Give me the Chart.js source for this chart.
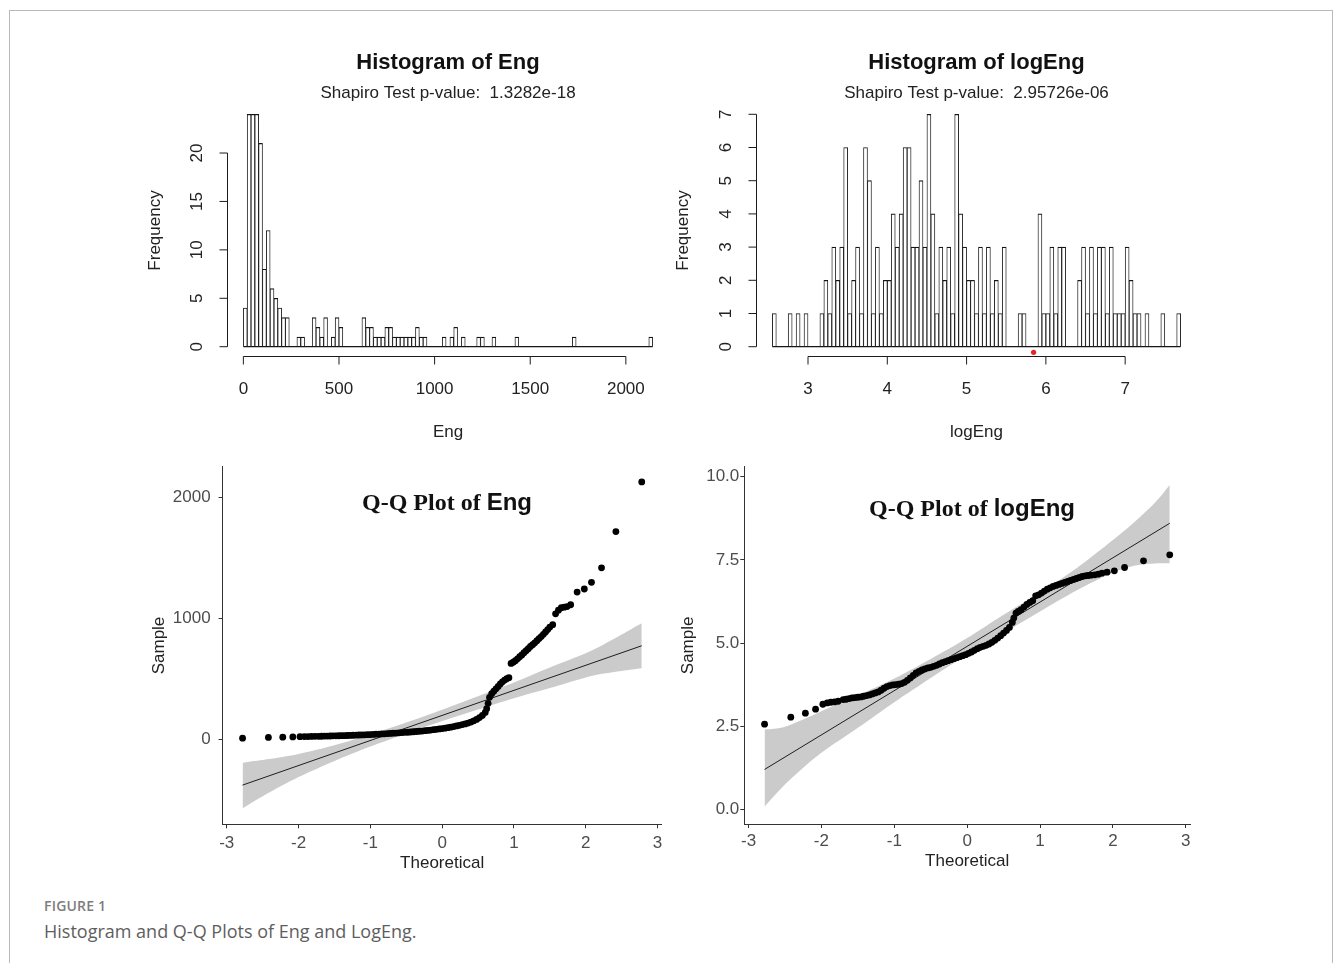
<!DOCTYPE html>
<html lang="en">
<head>
<meta charset="utf-8">
<title>Histogram and Q-Q Plots of Eng and LogEng</title>
<script src="https://cdn.jsdelivr.net/npm/chart.js@4.4.1/dist/chart.umd.min.js"></script>
<style>
    html, body { margin: 0; padding: 0; background: #fff; }
    body { position: relative; width: 1333px; height: 963px; overflow: hidden; }
    .frame {
        position: absolute; left: 9px; top: 10px; width: 1324px; height: 960px;
        box-sizing: border-box; border: 1px solid #b9b9b9; border-bottom: none;
    }
    canvas { position: absolute; }
    .qq-title {
        position: absolute; transform: translate(-50%, -50%);
        white-space: nowrap; line-height: 1; color: #111;
    }
    .qq-title .serif { font: bold 24px "Liberation Serif", "Times New Roman", serif; }
    .qq-title .sans { font: bold 24px "Liberation Sans", Arial, sans-serif; }
    .fig-label {
        position: absolute; left: 44px; top: 896px; line-height: 1.2;
        font: 600 14px "Open Sans", sans-serif; color: #7d7d7d; letter-spacing: 0.2px;
    }
    .fig-caption {
        position: absolute; left: 44px; top: 919px; line-height: 1.2;
        font: 400 18px "Open Sans", sans-serif; color: #5e5e5e;
    }
</style>
</head>
<body>
<div class="frame"></div>

<canvas id="histEng" width="540" height="420" style="left:140px;top:40px"></canvas>
<canvas id="histLogEng" width="540" height="420" style="left:670px;top:40px"></canvas>
<canvas id="qqEng" width="540" height="420" style="left:140px;top:460px"></canvas>
<canvas id="qqLogEng" width="540" height="420" style="left:670px;top:460px"></canvas>

<div class="qq-title" style="left:447px;top:502px"><span class="serif">Q-Q Plot of </span><span class="sans">Eng</span></div>
<div class="qq-title" style="left:972px;top:508px"><span class="serif">Q-Q Plot of </span><span class="sans">logEng</span></div>

<div class="fig-label">FIGURE 1</div>
<div class="fig-caption">Histogram and Q-Q Plots of Eng and LogEng.</div>

<script>
// ---------------- data ----------------

// Histogram of Eng: bins of width 20 starting at 0
const engBinStart = 0;
const engBinWidth = 20;
const engCounts = [
    4, 24, 24, 24, 21, 8, 12, 6, 5, 4, 3, 3,
    0, 0, 1, 1, 0, 0,
    3, 2, 1, 3, 0, 1, 3, 2,
    0, 0, 0, 0, 0,
    3, 2, 2, 1, 1, 1, 2, 2, 1, 1, 1, 1, 1, 1, 2, 1, 1,
    0, 0, 0, 0,
    1, 0, 1, 2, 0, 1,
    0, 0, 0, 1, 1, 0, 0, 1,
    0, 0, 0, 0, 0, 1,
    0, 0, 0, 0, 0, 0, 0, 0, 0, 0, 0, 0, 0, 0, 1,
    0, 0, 0, 0, 0, 0, 0, 0, 0, 0, 0, 0, 0, 0, 0, 0, 0, 0, 0, 1
];
const engXTicks = [0, 500, 1000, 1500, 2000];
const engYTicks = [0, 5, 10, 15, 20];

// Histogram of logEng: bins of width 0.05 starting at 2.55
const logBinStart = 2.55;
const logBinWidth = 0.05;
const logCounts = [
    1, 0, 0, 0, 1, 0, 1, 0, 1, 0, 0, 0,
    1, 2, 1, 3, 2, 3, 6, 1, 2, 3, 1,
    6, 5, 1, 3, 1, 2, 2, 4,
    3, 4, 6, 6, 3, 3,
    5, 3, 7, 4, 1,
    3, 2, 3, 1, 7, 4,
    3, 2, 2, 1, 3, 1, 3, 1, 2, 1, 3,
    0, 0, 0,
    1, 1,
    0, 0, 0,
    4, 1, 1, 3, 1, 3, 3,
    0, 0, 0,
    2, 3, 1, 3, 1, 3, 3, 1, 3, 1, 1, 1, 3, 2, 1, 1, 0, 1,
    0, 0, 0,
    1,
    0, 0, 0,
    1
];
const logXTicks = [3, 4, 5, 6, 7];
const logYTicks = [0, 1, 2, 3, 4, 5, 6, 7];
const logMarker = [{ x: 5.845, y: -0.17 }];

// Q-Q plot of Eng
const qqEngTheo = [
    -2.78, -2.42, -2.22, -2.08, -1.98, -1.92, -1.87, -1.82, -1.77,
    -1.72, -1.68, -1.64, -1.60, -1.56, -1.52, -1.48, -1.44, -1.40, -1.36,
    -1.32, -1.28, -1.24, -1.20, -1.16, -1.12, -1.08, -1.04, -1.00, -0.96,
    -0.92, -0.88, -0.84, -0.80, -0.76, -0.72, -0.68, -0.64, -0.60, -0.56,
    -0.52, -0.48, -0.44, -0.40, -0.36, -0.32, -0.28, -0.24, -0.20, -0.16,
    -0.12, -0.08, -0.04, 0.00, 0.04, 0.08, 0.12, 0.16, 0.20, 0.24,
    0.28, 0.32, 0.36, 0.40, 0.44, 0.48, 0.52, 0.56, 0.60,
    0.62, 0.64, 0.66,
    0.69, 0.72, 0.75, 0.78, 0.81, 0.84, 0.87, 0.90, 0.93, 0.96,
    0.99, 1.02, 1.05, 1.08, 1.11, 1.14, 1.17, 1.20, 1.23, 1.26, 1.29, 1.32,
    1.35, 1.38, 1.41, 1.44, 1.47, 1.50,
    1.54, 1.58, 1.62, 1.66, 1.70, 1.74, 1.79,
    1.88, 1.98, 2.08, 2.22, 2.42, 2.78
];
const qqEngSample = [
    12, 18, 20, 22, 24, 25, 25, 26, 27,
    27, 28, 29, 29, 30, 31, 31, 32, 33, 33,
    34, 35, 36, 37, 38, 39, 40, 41, 42, 43,
    45, 46, 47, 48, 50, 51, 53, 54, 56, 58,
    60, 61, 63, 65, 67, 69, 71, 74, 76, 79,
    82, 85, 88, 91, 95, 99, 103, 108, 113, 118,
    124, 130, 137, 145, 155, 167, 182, 200, 225,
    255, 300, 350,
    380, 400, 420, 440, 460, 478, 492, 503, 512, 630,
    640, 652, 668, 685, 700, 718, 735, 752, 770, 785, 800, 818,
    835, 852, 870, 890, 910, 930,
    950, 1040, 1070, 1090, 1095, 1100, 1115,
    1220, 1245, 1300, 1420, 1720, 2130
];
const qqEngLineX = [-2.78, 2.78];
const qqEngLineY = [-376, 776];
const qqEngBandX = [-2.78, -2.65, -2.5, -2.25, -2, -1.5, -1, -0.5, 0, 0.5, 1, 1.5, 2, 2.25, 2.5, 2.65, 2.78];
const qqEngBandHigh = [-194, -179, -168, -146, -119, -46, 43, 141, 247, 359, 472, 596, 714, 786, 868, 919, 961];
const qqEngBandLow = [-569, -519, -468, -386, -309, -176, -57, 51, 153, 249, 342, 426, 514, 546, 568, 579, 589];
const qqEngXTicks = [-3, -2, -1, 0, 1, 2, 3];
const qqEngYTicks = [0, 1000, 2000];

// Q-Q plot of logEng
const qqLogTheo = [
    -2.78, -2.42, -2.22, -2.08, -1.98, -1.92, -1.87, -1.82, -1.77,
    -1.70, -1.66, -1.62, -1.58, -1.54, -1.50, -1.46, -1.42, -1.38, -1.34,
    -1.30, -1.26, -1.22, -1.18, -1.14, -1.10, -1.06, -1.02, -0.98, -0.94,
    -0.90, -0.86, -0.82, -0.78, -0.74, -0.70, -0.66, -0.62, -0.58, -0.54,
    -0.50, -0.46, -0.42, -0.38, -0.34, -0.30, -0.26, -0.22, -0.18, -0.14,
    -0.10, -0.06, -0.02, 0.02, 0.06, 0.10, 0.14, 0.18, 0.22, 0.26,
    0.30, 0.34, 0.38, 0.42, 0.46, 0.50, 0.54, 0.58,
    0.62, 0.64, 0.67, 0.70, 0.74, 0.78, 0.82, 0.86, 0.90, 0.94,
    0.98, 1.02, 1.06, 1.10, 1.14, 1.18, 1.22, 1.26, 1.30, 1.34,
    1.38, 1.42, 1.46, 1.50, 1.54, 1.58, 1.62, 1.66, 1.70, 1.75,
    1.80, 1.85, 1.92, 2.02, 2.16, 2.42, 2.78
];
const qqLogSample = [
    2.56, 2.77, 2.89, 3.01, 3.16, 3.20, 3.22, 3.23, 3.25,
    3.30, 3.31, 3.33, 3.35, 3.36, 3.37, 3.38, 3.40, 3.42, 3.44,
    3.47, 3.50, 3.53, 3.58, 3.64, 3.69, 3.72, 3.74, 3.75, 3.76,
    3.78, 3.82, 3.88, 3.95, 4.03, 4.10, 4.15, 4.19, 4.22, 4.25,
    4.27, 4.30, 4.33, 4.37, 4.41, 4.44, 4.47, 4.50, 4.53, 4.56,
    4.59, 4.62, 4.65, 4.69, 4.73, 4.78, 4.83, 4.87, 4.90, 4.93,
    4.97, 5.02, 5.08, 5.15, 5.22, 5.30, 5.38, 5.47,
    5.62, 5.75, 5.90, 5.95, 6.00, 6.08, 6.16, 6.22, 6.27, 6.42,
    6.45, 6.50, 6.56, 6.62, 6.66, 6.70, 6.73, 6.76, 6.79, 6.82,
    6.85, 6.88, 6.91, 6.94, 6.97, 7.00, 7.02, 7.03, 7.04, 7.05,
    7.07, 7.10, 7.13, 7.17, 7.27, 7.47, 7.65
];
const qqLogLineX = [-2.78, 2.78];
const qqLogLineY = [1.20, 8.60];
const qqLogBandX = [-2.78, -2.65, -2.5, -2.25, -2, -1.5, -1, -0.5, 0, 0.5, 1, 1.5, 2, 2.25, 2.5, 2.65, 2.78];
const qqLogBandHigh = [2.40, 2.42, 2.48, 2.70, 2.95, 3.42, 3.93, 4.52, 5.15, 5.85, 6.52, 7.25, 8.10, 8.55, 9.05, 9.40, 9.75];
const qqLogBandLow = [0.08, 0.40, 0.75, 1.25, 1.70, 2.45, 3.22, 3.95, 4.65, 5.30, 5.95, 6.58, 7.12, 7.30, 7.38, 7.40, 7.40];
const qqLogXTicks = [-3, -2, -1, 0, 1, 2, 3];
const qqLogYTicks = [0, 2.5, 5, 7.5, 10];

// ---------------- helpers ----------------

const SANS = '"Liberation Sans", Arial, Helvetica, sans-serif';
Chart.defaults.font.family = SANS;
Chart.defaults.font.size = 17;
Chart.defaults.color = '#222';

const zip = (xs, ys) => xs.map((x, i) => ({ x: x, y: ys[i] }));
const fixedTicks = values => scale => { scale.ticks = values.map(v => ({ value: v })); };

// R style axes: the line only runs from the first to the last tick
const rAxes = {
    id: 'rAxes',
    afterDraw(chart) {
        const { ctx, chartArea, scales } = chart;
        const x = scales.x, y = scales.y;
        const xs = x.ticks.map(t => x.getPixelForValue(t.value));
        const ys = y.ticks.map(t => y.getPixelForValue(t.value));
        const yb = Math.round(chartArea.bottom) + 0.5;
        const xl = Math.round(chartArea.left) + 0.5;
        ctx.save();
        ctx.strokeStyle = '#1c1c1c';
        ctx.lineWidth = 1;
        ctx.beginPath();
        ctx.moveTo(xs[0], yb);
        ctx.lineTo(xs[xs.length - 1], yb);
        xs.forEach(px => { ctx.moveTo(px, yb); ctx.lineTo(px, yb + 8); });
        ctx.moveTo(xl, ys[0]);
        ctx.lineTo(xl, ys[ys.length - 1]);
        ys.forEach(py => { ctx.moveTo(xl, py); ctx.lineTo(xl - 8, py); });
        ctx.stroke();
        ctx.restore();
    }
};

function histogram(id, h) {
    const bars = h.counts.map((c, i) => ({ x: h.binStart + (i + 0.5) * h.binWidth, y: c }));
    const binEnd = h.binStart + h.counts.length * h.binWidth;
    const datasets = [
        {
            type: 'bar',
            data: bars,
            backgroundColor: '#ffffff',
            borderColor: '#161616',
            borderWidth: { top: 1.2, left: 0.9, right: 0.9, bottom: 0 },
            borderSkipped: 'start',
            barPercentage: 1,
            categoryPercentage: 1,
            order: 3
        },
        {
            type: 'line',
            data: [{ x: h.binStart, y: 0 }, { x: binEnd, y: 0 }],
            borderColor: '#161616',
            borderWidth: 1.2,
            pointRadius: 0,
            order: 2
        }
    ];
    if (h.marker) {
        datasets.push({
            type: 'scatter',
            data: h.marker,
            pointRadius: 2.6,
            backgroundColor: '#e3262b',
            borderWidth: 0,
            order: 1
        });
    }

    return new Chart(document.getElementById(id), {
        type: 'bar',
        data: { datasets: datasets },
        plugins: [rAxes],
        options: {
            responsive: false,
            animation: false,
            events: [],
            layout: { padding: { top: 0, left: 0, bottom: 0, right: h.padRight } },
            plugins: {
                legend: { display: false },
                tooltip: { enabled: false },
                title: {
                    display: true,
                    text: h.title,
                    fullSize: false,
                    color: '#111',
                    font: { size: 22, weight: 'bold' },
                    padding: { top: 9.5, bottom: 0 }
                },
                subtitle: {
                    display: true,
                    text: h.subtitle,
                    fullSize: false,
                    color: '#222',
                    font: { size: 17 },
                    padding: { top: 7.2, bottom: 1.5 }
                }
            },
            scales: {
                x: {
                    type: 'linear',
                    min: h.xMin,
                    max: h.xMax,
                    offset: false,
                    afterBuildTicks: fixedTicks(h.xTicks),
                    afterFit: s => { s.height = 104; s.paddingLeft = 0; s.paddingRight = 0; },
                    grid: { display: false },
                    border: { display: false },
                    ticks: { autoSkip: false, padding: 15, color: '#222', callback: v => String(v) },
                    title: { display: true, text: h.xLabel, color: '#222', padding: { top: 0, bottom: 17 } }
                },
                y: {
                    type: 'linear',
                    min: h.yMin,
                    max: h.yMax,
                    afterBuildTicks: fixedTicks(h.yTicks),
                    afterFit: s => { s.width = h.yWidth; s.paddingTop = 0; s.paddingBottom = 0; },
                    grid: { display: false },
                    border: { display: false },
                    ticks: {
                        autoSkip: false, minRotation: 90, maxRotation: 90, crossAlign: 'center',
                        padding: h.yTickPad, color: '#222', callback: v => String(v)
                    },
                    title: { display: true, text: 'Frequency', color: '#222', padding: { top: h.yTitlePad, bottom: 0 } }
                }
            }
        }
    });
}

function qqPlot(id, q) {
    return new Chart(document.getElementById(id), {
        type: 'scatter',
        data: {
            datasets: [
                {
                    type: 'scatter',
                    data: zip(q.theo, q.sample),
                    pointRadius: 3.4,
                    backgroundColor: '#000',
                    borderWidth: 0
                },
                {
                    type: 'line',
                    data: zip(q.lineX, q.lineY),
                    borderColor: '#1e1e1e',
                    borderWidth: 1,
                    pointRadius: 0,
                    fill: false
                },
                {
                    type: 'line',
                    data: zip(q.bandX, q.bandLow),
                    borderColor: 'rgba(0,0,0,0)',
                    pointRadius: 0,
                    tension: 0.3,
                    fill: false
                },
                {
                    type: 'line',
                    data: zip(q.bandX, q.bandHigh),
                    borderColor: 'rgba(0,0,0,0)',
                    backgroundColor: '#cbcbcb',
                    pointRadius: 0,
                    tension: 0.3,
                    fill: '-1'
                }
            ]
        },
        options: {
            responsive: false,
            animation: false,
            events: [],
            layout: { padding: { top: 6.7, left: 0, bottom: 0, right: q.padRight } },
            plugins: { legend: { display: false }, tooltip: { enabled: false } },
            scales: {
                x: {
                    type: 'linear',
                    min: -3.058,
                    max: 3.058,
                    afterBuildTicks: fixedTicks(q.xTicks),
                    afterFit: s => { s.height = q.xHeight; s.paddingLeft = 0; s.paddingRight = 0; },
                    grid: { display: true, drawOnChartArea: false, drawTicks: true, tickLength: 4, color: '#333' },
                    border: { display: true, color: '#333', width: 1 },
                    ticks: { autoSkip: false, padding: q.xTickPad, color: '#4d4d4d', callback: v => String(v) },
                    title: { display: true, text: 'Theoretical', color: '#222', padding: { top: 0, bottom: q.xTitlePad } }
                },
                y: {
                    type: 'linear',
                    min: q.yMin,
                    max: q.yMax,
                    afterBuildTicks: fixedTicks(q.yTicks),
                    afterFit: s => { s.width = q.yWidth; s.paddingTop = 0; s.paddingBottom = 0; },
                    grid: { display: true, drawOnChartArea: false, drawTicks: true, tickLength: 4, color: '#333' },
                    border: { display: true, color: '#333', width: 1 },
                    ticks: { autoSkip: false, padding: q.yTickPad, color: '#4d4d4d', callback: q.yFormat },
                    title: { display: true, text: 'Sample', color: '#222', padding: { top: q.yTitlePad, bottom: 0 } }
                }
            }
        }
    });
}

// ---------------- charts ----------------

histogram('histEng', {
    title: 'Histogram of Eng',
    subtitle: 'Shapiro Test p-value:  1.3282e-18',
    xLabel: 'Eng',
    counts: engCounts, binStart: engBinStart, binWidth: engBinWidth,
    xTicks: engXTicks, yTicks: engYTicks,
    xMin: -85.6, xMax: 2225.6, yMin: -0.96, yMax: 24.96,
    padRight: 11, yWidth: 87, yTickPad: 12.5, yTitlePad: 5.3
});

histogram('histLogEng', {
    title: 'Histogram of logEng',
    subtitle: 'Shapiro Test p-value:  2.95726e-06',
    xLabel: 'logEng',
    counts: logCounts, binStart: logBinStart, binWidth: logBinWidth,
    xTicks: logXTicks, yTicks: logYTicks, marker: logMarker,
    xMin: 2.344, xMax: 7.906, yMin: -0.28, yMax: 7.28,
    padRight: 13, yWidth: 86, yTickPad: 17, yTitlePad: 3.6
});

qqPlot('qqEng', {
    theo: qqEngTheo, sample: qqEngSample,
    lineX: qqEngLineX, lineY: qqEngLineY,
    bandX: qqEngBandX, bandLow: qqEngBandLow, bandHigh: qqEngBandHigh,
    xTicks: qqEngXTicks, yTicks: qqEngYTicks,
    yMin: -700, yMax: 2256, yFormat: v => String(v),
    padRight: 18.3, yWidth: 82.6, xHeight: 55.7,
    xTickPad: 4.5, yTickPad: 8, yTitlePad: 8.8, xTitlePad: 6.8
});

qqPlot('qqLogEng', {
    theo: qqLogTheo, sample: qqLogSample,
    lineX: qqLogLineX, lineY: qqLogLineY,
    bandX: qqLogBandX, bandLow: qqLogBandLow, bandHigh: qqLogBandHigh,
    xTicks: qqLogXTicks, yTicks: qqLogYTicks,
    yMin: -0.44, yMax: 10.3, yFormat: v => v.toFixed(1),
    padRight: 20, yWidth: 74.3, xHeight: 56,
    xTickPad: 3.5, yTickPad: 1, yTitlePad: 7.8, xTitlePad: 8.1
});
</script>
</body>
</html>
